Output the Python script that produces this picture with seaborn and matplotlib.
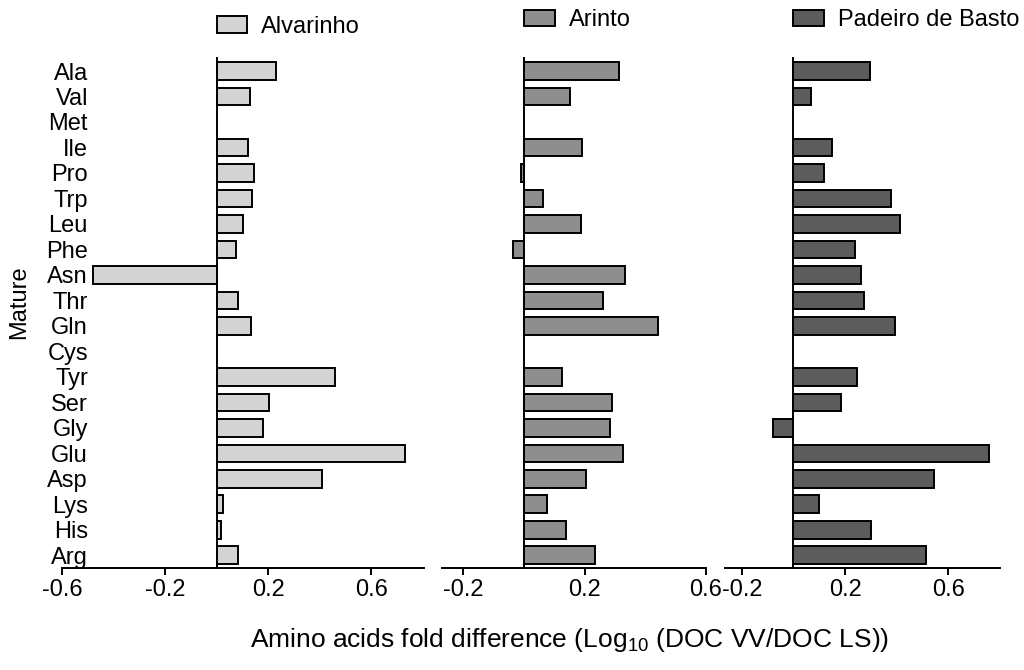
import numpy as np
import pandas as pd
import matplotlib
matplotlib.use("Agg")
import matplotlib.pyplot as plt
import seaborn as sns
from matplotlib.patches import Patch
from matplotlib.transforms import blended_transform_factory

amino = ["Ala", "Val", "Met", "Ile", "Pro", "Trp", "Leu", "Phe", "Asn", "Thr",
         "Gln", "Cys", "Tyr", "Ser", "Gly", "Glu", "Asp", "Lys", "His", "Arg"]
alvarinho = [0.231, 0.130, np.nan, 0.122, 0.146, 0.138, 0.104, 0.075, -0.481, 0.082,
             0.133, np.nan, 0.460, 0.205, 0.182, 0.732, 0.411, 0.026, 0.017, 0.083]
arinto = [0.313, 0.151, np.nan, 0.193, -0.010, 0.064, 0.188, -0.037, 0.333, 0.260,
          0.441, np.nan, 0.126, 0.291, 0.282, 0.327, 0.206, 0.077, 0.140, 0.235]
padeiro = [0.297, 0.068, np.nan, 0.151, 0.118, 0.377, 0.414, 0.237, 0.261, 0.273,
           0.394, np.nan, 0.248, 0.184, -0.078, 0.756, 0.543, 0.100, 0.302, 0.512]
series_names = ["Alvarinho", "Arinto", "Padeiro de Basto"]
colors = ["#d3d3d3", "#8e8e8e", "#5c5c5c"]
xticks = [[-0.6, -0.2, 0.2, 0.6], [-0.2, 0.2, 0.6], [-0.2, 0.2, 0.6]]
xlims = [(-0.6, 0.805), (-0.27, 0.6), (-0.265, 0.8)]

sns.set_theme(style="white")
plt.rcParams["font.family"] = ["Liberation Sans", "DejaVu Sans"]
plt.rcParams["mathtext.fontset"] = "custom"
plt.rcParams["mathtext.rm"] = "Liberation Sans"
plt.rcParams["mathtext.it"] = "Liberation Sans:italic"
for k in ["text.color", "axes.labelcolor", "xtick.color", "ytick.color"]:
    plt.rcParams[k] = "black"

FS = 17

fig = plt.figure(figsize=(10.24, 6.7), dpi=100)
bottom = 1 - 568 / 670
height = (568 - 57) / 670
positions = [(62, 424), (442, 706), (725, 1000)]
legend_y = [1.038, 1.05, 1.05]

data = [alvarinho, arinto, padeiro]
for i, (name, vals) in enumerate(zip(series_names, data)):
    l, r = positions[i]
    ax = fig.add_axes([l / 1024, bottom, (r - l) / 1024, height])
    df = pd.DataFrame({"amino": amino, "value": vals})
    sns.barplot(data=df, y="amino", x="value", order=amino, orient="h",
                color=colors[i], saturation=1, edgecolor="black", linewidth=1.4,
                width=0.69, ax=ax)
    ax.set_xlim(*xlims[i])
    ax.set_ylim(19.5, -0.55)
    ax.axvline(0, color="black", linewidth=1.4, zorder=3)
    ax.set_xticks(xticks[i])
    ax.set_xticklabels([f"{t:.1f}" for t in xticks[i]], fontsize=FS)
    ax.set_xlabel("")
    ax.set_ylabel("")
    for s in ["top", "right", "left"]:
        ax.spines[s].set_visible(False)
    ax.spines["bottom"].set_linewidth(1.4)
    ax.spines["bottom"].set_color("black")
    ax.tick_params(axis="x", direction="out", length=5, width=1.4, color="black",
                   bottom=True, pad=3, labelcolor="black")
    if i == 0:
        ax.set_yticks(range(len(amino)))
        ax.set_yticklabels(amino, fontsize=FS)
        ax.tick_params(axis="y", left=True, length=0, pad=-18.7, labelcolor="black")
        for lab in ax.get_yticklabels():
            lab.set_horizontalalignment("right")
    else:
        ax.set_yticks([])
    trans = blended_transform_factory(ax.transData, ax.transAxes)
    ax.legend(handles=[Patch(facecolor=colors[i], edgecolor="black", linewidth=1.4,
                             label=name)],
              loc="lower left", bbox_to_anchor=(0, legend_y[i]), bbox_transform=trans,
              frameon=False, borderaxespad=0, borderpad=0, fontsize=FS,
              handlelength=1.3, handleheight=0.7, handletextpad=0.6)

fig.text(19 / 1024, 1 - 302 / 670, "Mature", rotation=90, ha="center", va="center",
         fontsize=FS)
fig.text(570 / 1024, 1 - 640 / 670,
         "Amino acids fold difference (Log$_{10}$ (DOC VV/DOC LS))",
         ha="center", va="center", fontsize=19)

fig.savefig("out.png", dpi=100)
